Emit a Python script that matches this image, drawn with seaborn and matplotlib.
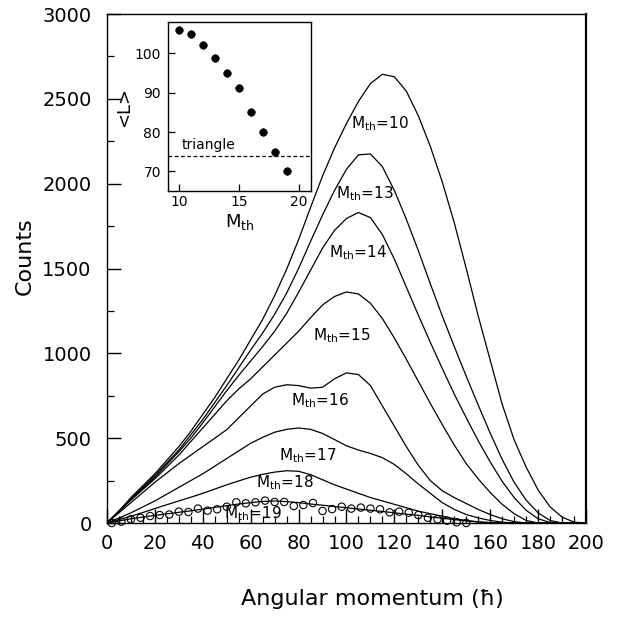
import matplotlib
matplotlib.use("Agg")
import matplotlib.pyplot as plt
import numpy as np
import pandas as pd
import seaborn as sns
from matplotlib.ticker import MultipleLocator

# Angular momentum grid (hbar) shared by all computed spectra
ang_mom = list(range(0, 205, 5))

# Computed angular momentum distributions for each multiplicity threshold
counts_m10 = [0, 70, 150, 220, 290, 370, 450, 540, 640, 740,
              850, 960, 1080, 1200, 1340, 1495, 1670, 1860, 2045, 2210,
              2355, 2485, 2590, 2645, 2630, 2545, 2400, 2220, 2010, 1770,
              1500, 1220, 960, 700, 490, 330, 195, 95, 35, 5, 0]
counts_m13 = [0, 70, 145, 210, 280, 355, 430, 520, 610, 710,
              810, 915, 1020, 1120, 1230, 1355, 1500, 1660, 1815, 1960,
              2085, 2170, 2175, 2100, 1960, 1790, 1605, 1410, 1220, 1040,
              865, 695, 530, 375, 240, 135, 60, 15, 0, 0, 0]
counts_m14 = [0, 70, 140, 205, 270, 345, 420, 500, 590, 685,
              780, 870, 955, 1040, 1130, 1235, 1360, 1490, 1620, 1725,
              1795, 1830, 1800, 1700, 1555, 1390, 1225, 1065, 910, 760,
              620, 485, 360, 245, 150, 75, 25, 3, 0, 0, 0]
counts_m15 = [0, 68, 135, 198, 260, 330, 400, 480, 560, 640,
              720, 790, 850, 920, 990, 1060, 1130, 1210, 1285, 1335,
              1362, 1350, 1295, 1205, 1090, 965, 835, 705, 580, 460,
              350, 260, 180, 110, 55, 15, 0, 0, 0, 0, 0]
counts_m16 = [0, 60, 120, 180, 240, 295, 350, 400, 450, 500,
              550, 620, 690, 760, 800, 815, 810, 795, 800, 850,
              885, 875, 810, 690, 570, 450, 340, 250, 190, 150,
              115, 80, 50, 25, 8, 0, 0, 0, 0, 0, 0]
counts_m17 = [0, 30, 60, 95, 130, 170, 210, 250, 290, 335,
              380, 425, 470, 505, 535, 552, 560, 552, 528, 492,
              455, 430, 410, 385, 345, 290, 230, 175, 120, 80,
              50, 30, 15, 5, 0, 0, 0, 0, 0, 0, 0]
counts_m18 = [0, 20, 40, 62, 85, 108, 130, 152, 175, 200,
              225, 248, 270, 287, 300, 308, 305, 285, 255, 225,
              200, 175, 150, 130, 110, 90, 70, 55, 40, 25,
              15, 7, 2, 0, 0, 0, 0, 0, 0, 0, 0]
counts_m19 = [0, 12, 25, 35, 45, 54, 63, 72, 82, 92,
              102, 112, 120, 127, 130, 126, 120, 112, 105, 97,
              90, 82, 75, 68, 60, 52, 45, 36, 28, 20,
              12, 6, 2, 0, 0, 0, 0, 0, 0, 0, 0]

thresholds = [10, 13, 14, 15, 16, 17, 18, 19]
spectra = [counts_m10, counts_m13, counts_m14, counts_m15,
           counts_m16, counts_m17, counts_m18, counts_m19]

# Measured distribution for M_th = 19
meas_L = list(range(2, 152, 4))
meas_counts = [0, 8, 22, 31, 41, 47, 50, 67, 65, 85,
               73, 81, 96, 122, 116, 122, 132, 124, 124, 100,
               106, 118, 71, 82, 96, 85, 91, 85, 81, 63,
               67, 61, 47, 31, 22, 14, 4, 0]

# Mean angular momentum versus multiplicity threshold (inset)
inset_mth = [10, 11, 12, 13, 14, 15, 16, 17, 18, 19]
inset_meanL = [106, 105, 102.1, 98.9, 95.1, 91.1, 85.1, 80, 75, 70]
triangle_level = 74

sns.set_style("ticks")
plt.rcParams["font.family"] = ["DejaVu Sans"]
plt.rcParams["mathtext.fontset"] = "dejavusans"
plt.rcParams["text.color"] = "black"
plt.rcParams["axes.labelcolor"] = "black"
plt.rcParams["xtick.color"] = "black"
plt.rcParams["ytick.color"] = "black"

df = pd.DataFrame({
    "L": np.tile(ang_mom, len(thresholds)),
    "Counts": np.concatenate(spectra),
    "Mth": np.repeat(thresholds, len(ang_mom)),
})

fig = plt.figure(figsize=(6.23, 6.23), dpi=100)
ax = fig.add_axes([0.1717, 0.1605, 0.7689, 0.8170])

sns.lineplot(data=df, x="L", y="Counts", hue="Mth",
             palette={m: "black" for m in thresholds},
             legend=False, linewidth=0.9, ax=ax)

sns.scatterplot(x=meas_L, y=meas_counts, marker="o", s=28,
                linewidth=0.8, ax=ax, clip_on=False, zorder=3)
circles = ax.collections[-1]
circles.set_facecolor("none")
circles.set_edgecolor("black")

ax.set_xlim(0, 200)
ax.set_ylim(0, 3000)
ax.xaxis.set_major_locator(MultipleLocator(20))
ax.xaxis.set_minor_locator(MultipleLocator(5))
ax.yaxis.set_major_locator(MultipleLocator(500))
ax.yaxis.set_minor_locator(MultipleLocator(250))
ax.tick_params(which="major", direction="in", length=10, width=1.0,
               labelsize=14, colors="black")
ax.tick_params(axis="x", which="major", pad=8)
ax.tick_params(axis="y", which="major", pad=11)
ax.tick_params(which="minor", direction="in", length=5, width=0.9)
for side, sp in ax.spines.items():
    sp.set_linewidth(1.0)
    sp.set_color("black")
ax.spines["right"].set_linewidth(1.6)

ax.set_xlabel("Angular momentum (ħ)", fontsize=16)
ax.set_ylabel("Counts", fontsize=16)
ax.xaxis.set_label_coords(0.555, -0.13)
ax.yaxis.set_label_coords(-0.15, 0.525)

# Threshold labels on the curves
label_pos = [(114, 2355), (107.7, 1940), (104.8, 1591), (98, 1104),
             (89, 721), (84, 395), (74.3, 240), (61, 57)]
for m, (lx, ly) in zip(thresholds, label_pos):
    ax.text(lx, ly, r"M$_{\mathrm{th}}$=" + str(m), fontsize=11,
            ha="center", va="center")

# Inset: mean angular momentum
axi = fig.add_axes([0.2697, 0.6934, 0.2295, 0.2713])
sns.scatterplot(x=inset_mth, y=inset_meanL, color="black", s=30,
                edgecolor="black", ax=axi, zorder=3)
axi.axhline(triangle_level, color="black", linewidth=0.9,
            linestyle=(0, (3, 2)))
axi.text(10.2, 75.0, "triangle", fontsize=10, ha="left", va="bottom")
axi.set_xlim(9.08, 21)
axi.set_ylim(65, 108)
axi.set_xticks([10, 15, 20])
axi.set_yticks([70, 80, 90, 100])
axi.tick_params(direction="in", length=5, width=0.9, labelsize=10)
axi.tick_params(axis="x", pad=3)
axi.tick_params(axis="y", pad=5)
for sp in axi.spines.values():
    sp.set_linewidth(1.0)
    sp.set_color("black")
axi.set_xlabel(r"M$_{\mathrm{th}}$", fontsize=13, labelpad=2)
axi.set_ylabel("<L>", fontsize=13, labelpad=1)

fig.savefig("out.png", dpi=100)
